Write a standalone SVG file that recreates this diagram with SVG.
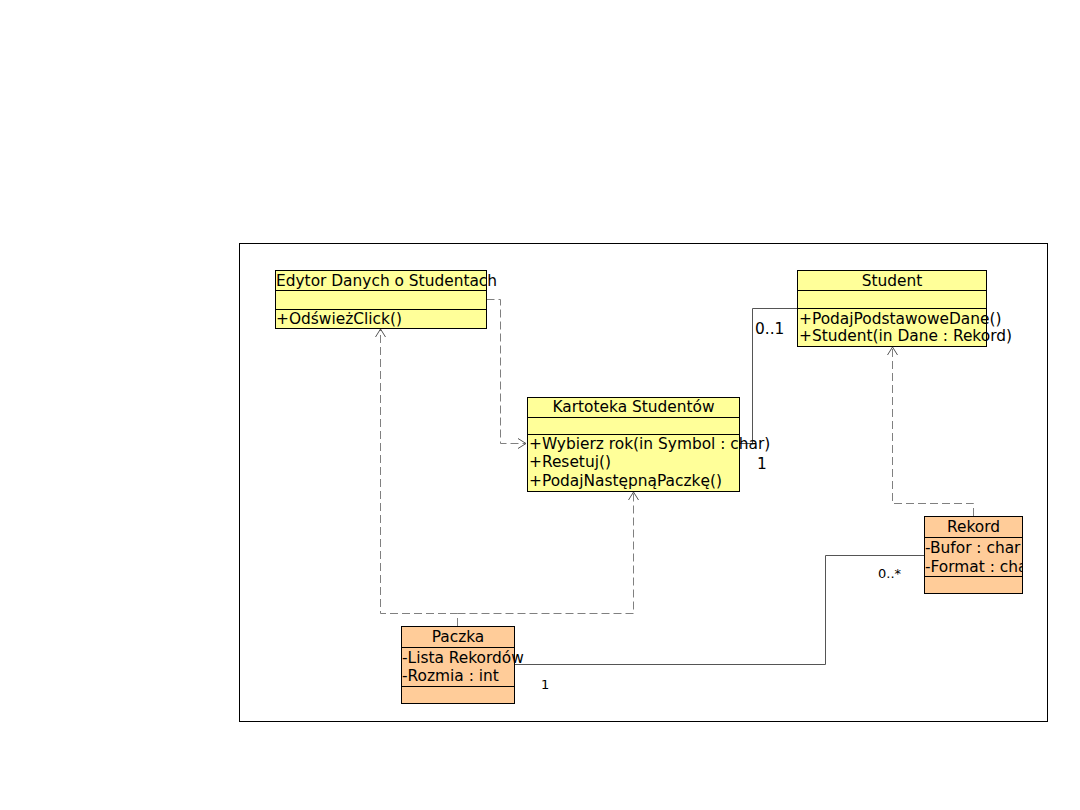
<svg xmlns="http://www.w3.org/2000/svg" width="1080" height="810" viewBox="0 0 1080 810">
<style>
.t{font-family:"DejaVu Sans",sans-serif;font-size:15.4px;fill:#000}
.s{font-family:"DejaVu Sans",sans-serif;font-size:13px;fill:#000}
.y{fill:#ffff99;stroke:#000;stroke-width:1}
.o{fill:#ffcc99;stroke:#000;stroke-width:1}
.l{stroke:#000;stroke-width:1;fill:none}
.d{stroke:#808080;stroke-width:1;fill:none;stroke-dasharray:8,4}
.a{stroke:#555;stroke-width:1;fill:none}
</style>
<defs>
<marker id="open" markerWidth="12" markerHeight="12" refX="10" refY="6" orient="auto" markerUnits="userSpaceOnUse">
<path d="M2,1 L10,6 L2,11" fill="none" stroke="#555" stroke-width="1"/>
</marker>
<clipPath id="clipR"><rect x="924" y="516" width="98" height="77"/></clipPath>
</defs>
<rect width="1080" height="810" fill="#fff"/>
<rect x="239.5" y="243.5" width="808" height="478" fill="none" stroke="#000" stroke-width="1"/>
<g id="connectors">
<path class="d" d="M486.5,299.5 H500.5 V443.5 H526" marker-end="url(#open)"/>
<path class="d" d="M457.5,626 V613.5 H380.5 V329" marker-end="url(#open)"/>
<path class="d" d="M457.5,613.5 H633.5 V492" marker-end="url(#open)"/>
<path class="d" d="M973.5,516 V503.5 H892.5 V347" marker-end="url(#open)"/>
<path class="a" d="M739,443.5 H752.5 V308.5 H797"/>
<path class="a" d="M514,664.5 H825.5 V555.5 H924"/>
<text class="t" x="755" y="334">0..1</text>
<text class="t" x="757" y="469">1</text>
<text class="s" x="541" y="689">1</text>
<text class="s" x="878" y="578">0..*</text>
</g>
<g id="edytor">
<rect class="y" x="275.5" y="270.5" width="211" height="58"/>
<line class="l" x1="275.5" y1="290.5" x2="486.5" y2="290.5"/>
<line class="l" x1="275.5" y1="309.5" x2="486.5" y2="309.5"/>
<text class="t" x="276" y="286">Edytor Danych o Studentach</text>
<text class="t" x="276" y="324">+OdświeżClick()</text>
</g>
<g id="kartoteka">
<rect class="y" x="527.5" y="397.5" width="212" height="94"/>
<line class="l" x1="527.5" y1="417.5" x2="739.5" y2="417.5"/>
<line class="l" x1="527.5" y1="434.5" x2="739.5" y2="434.5"/>
<text class="t" x="633.5" y="412" text-anchor="middle">Kartoteka Studentów</text>
<text class="t" x="529" y="449">+Wybierz rok(in Symbol : char)</text>
<text class="t" x="529" y="467">+Resetuj()</text>
<text class="t" x="529" y="486">+PodajNastępnąPaczkę()</text>
</g>
<g id="student">
<rect class="y" x="797.5" y="270.5" width="189" height="76"/>
<line class="l" x1="797.5" y1="290.5" x2="986.5" y2="290.5"/>
<line class="l" x1="797.5" y1="308.5" x2="986.5" y2="308.5"/>
<text class="t" x="892" y="286" text-anchor="middle">Student</text>
<text class="t" x="799" y="324">+PodajPodstawoweDane()</text>
<text class="t" x="799" y="341">+Student(in Dane : Rekord)</text>
</g>
<g id="rekord">
<rect class="o" x="924.5" y="516.5" width="98" height="77"/>
<line class="l" x1="924.5" y1="537.5" x2="1022.5" y2="537.5"/>
<line class="l" x1="924.5" y1="576.5" x2="1022.5" y2="576.5"/>
<text class="t" x="973.5" y="532" text-anchor="middle">Rekord</text>
<g clip-path="url(#clipR)">
<text class="t" x="925" y="553">-Bufor : char</text>
<text class="t" x="925" y="572">-Format : char</text>
</g>
</g>
<g id="paczka">
<rect class="o" x="401.5" y="626.5" width="113" height="77"/>
<line class="l" x1="401.5" y1="647.5" x2="514.5" y2="647.5"/>
<line class="l" x1="401.5" y1="686.5" x2="514.5" y2="686.5"/>
<text class="t" x="458" y="642" text-anchor="middle">Paczka</text>
<text class="t" x="402" y="663">-Lista Rekordów</text>
<text class="t" x="402" y="681">-Rozmia : int</text>
</g>
</svg>
